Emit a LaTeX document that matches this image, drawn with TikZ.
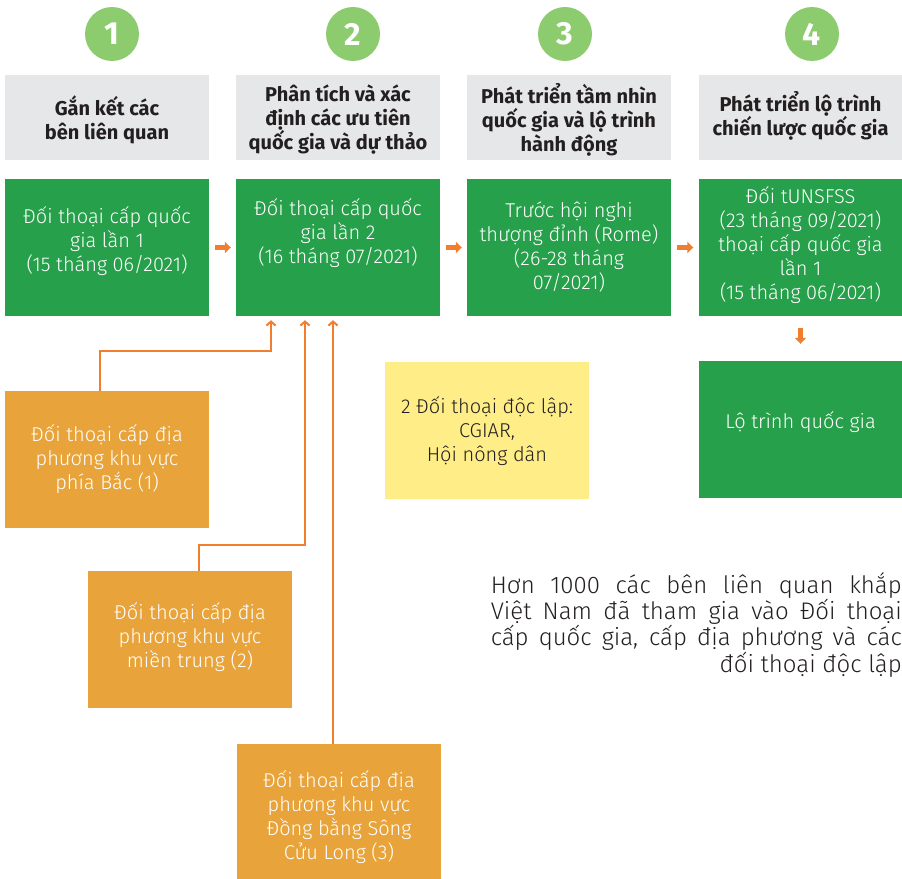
\documentclass[tikz,border=0pt]{standalone}
\usepackage{fontspec}
\setmainfont{Fira Sans Light}[BoldFont={Fira Sans Bold}]
\usetikzlibrary{arrows.meta,calc}

\definecolor{circlegreen}{RGB}{140,203,110}
\definecolor{headgray}{RGB}{230,231,232}
\definecolor{boxgreen}{RGB}{38,160,74}
\definecolor{boxorange}{RGB}{232,164,58}
\definecolor{boxyellow}{RGB}{255,238,136}
\definecolor{linkorange}{RGB}{240,126,46}
\definecolor{textdark}{RGB}{35,31,32}

\tikzset{
  stepnum/.style={circle, fill=circlegreen, minimum size=54pt, inner sep=0pt,
    text=white, font=\bfseries\fontsize{32}{32}\selectfont},
  headbox/.style={fill=headgray, minimum width=204pt, minimum height=85pt, inner sep=0pt},
  panel/.style={minimum width=204pt, minimum height=137pt, inner sep=0pt},
  greenpanel/.style={panel, fill=boxgreen},
  orangepanel/.style={panel, fill=boxorange},
  yellowpanel/.style={panel, fill=boxyellow},
  headtext/.style={align=center, inner sep=0pt, text=textdark,
    font=\bfseries\fontsize{20}{24}\selectfont},
  bodytext/.style={align=center, inner sep=0pt, text=white,
    font=\fontsize{20}{24}\selectfont},
  blockarrow/.style={draw=linkorange, line width=4.5pt,
    -{Triangle[width=11pt,length=6pt]}},
  feeder/.style={draw=linkorange, line width=2pt,
    -{Straight Barb[length=4pt,width=9pt,line width=2pt]}}
}

\begin{document}
\begin{tikzpicture}[x=1pt,y=-1pt]
  \useasboundingbox (0,0) rectangle (902,878);

  % step numbers
  \node[stepnum] (n1) at (112,34) {1};
  \node[stepnum] (n2) at (353,34) {2};
  \node[stepnum] (n3) at (565,34) {3};
  \node[stepnum] (n4) at (812,34) {4};

  % step headings
  \node[headbox] (h1) at (107,117.5) {};
  \node[headbox] (h2) at (338,117.5) {};
  \node[headbox] (h3) at (569,117.5) {};
  \node[headbox] (h4) at (800.5,117.5) {};
  \node[headtext] (ht1) at (107,120) {Gắn kết các\\bên liên quan};
  \node[headtext] (ht2) at (338,120) {Phân tích và xác\\định các ưu tiên\\quốc gia và dự thảo};
  \node[headtext] (ht3) at (569,120) {Phát triển tầm nhìn\\quốc gia và lộ trình\\hành động};
  \node[headtext] (ht4) at (800.5,116) {Phát triển lộ trình\\chiến lược quốc gia};

  % main dialogue sequence
  \node[greenpanel] (g1) at (107,247.5) {};
  \node[greenpanel] (g2) at (338,247.5) {};
  \node[greenpanel] (g3) at (569,247.5) {};
  \node[greenpanel] (g4) at (800.5,247.5) {};
  \node[bodytext] (gt1) at (107,241) {Đối thoại cấp quốc\\gia lần 1\\(15 tháng 06/2021)};
  \node[bodytext] (gt2) at (338,233) {Đối thoại cấp quốc\\gia lần 2\\(16 tháng 07/2021)};
  \node[bodytext] (gt3) at (569,247) {Trước hội nghị\\thượng đỉnh (Rome)\\(26-28 tháng\\07/2021)};
  \node[bodytext] (gt4) at (800.5,245) {Đối tUNSFSS\\(23 tháng 09/2021)\\thoại cấp quốc gia\\lần 1\\(15 tháng 06/2021)};

  \node[greenpanel] (g5) at (800.5,429.5) {};
  \node[bodytext] (gt5) at (800.5,422) {Lộ trình quốc gia};

  \draw[blockarrow] ([xshift=6pt]g1.east) -- ([xshift=-5pt]g2.west);
  \draw[blockarrow] ([xshift=6pt]g2.east) -- ([xshift=-5pt]g3.west);
  \draw[blockarrow] ([xshift=6pt]g3.east) -- ([xshift=-5pt]g4.west);
  \draw[blockarrow] ([yshift=-12pt]g4.south) -- ([yshift=17pt]g5.north);

  % independent dialogues
  \node[yellowpanel] (y1) at (487,430) {};
  \node[bodytext, text=textdark] (yt1) at (487,431) {2 Đối thoại độc lập:\\CGIAR,\\Hội nông dân};

  % regional dialogues
  \node[orangepanel] (o1) at (107,459.5) {};
  \node[orangepanel] (o2) at (190,639.5) {};
  \node[orangepanel, minimum height=146pt] (o3) at (339,817) {};
  \node[bodytext] (ot1) at (107,459) {Đối thoại cấp địa\\phương khu vực\\phía Bắc (1)};
  \node[bodytext] (ot2) at (190,637) {Đối thoại cấp địa\\phương khu vực\\miền trung (2)};
  \node[bodytext] (ot3) at (339,817) {Đối thoại cấp địa\\phương khu vực\\Đồng bằng Sông\\Cửu Long (3)};

  \draw[feeder] ([xshift=-7pt]o1.north) |- (271,351) -- ([xshift=-67pt,yshift=-4pt]g2.south);
  \draw[feeder] ([xshift=9pt]o2.north) |- (305,545) -- ([xshift=-33pt,yshift=-4pt]g2.south);
  \draw[feeder] ([xshift=-6pt]o3.north) -- ([xshift=-5pt,yshift=-4pt]g2.south);

  % summary note
  \node[anchor=north east, inner sep=0pt, align=right, text=textdark,
        font=\fontsize{24}{24}\selectfont] (note) at (902,572)
    {\makebox[411pt][s]{Hơn 1000 các bên liên quan khắp}\\
     \makebox[411pt][s]{Việt Nam đã tham gia vào Đối thoại}\\
     \makebox[411pt][s]{cấp quốc gia, cấp địa phương và các}\\
     đối thoại độc lập};
\end{tikzpicture}
\end{document}
